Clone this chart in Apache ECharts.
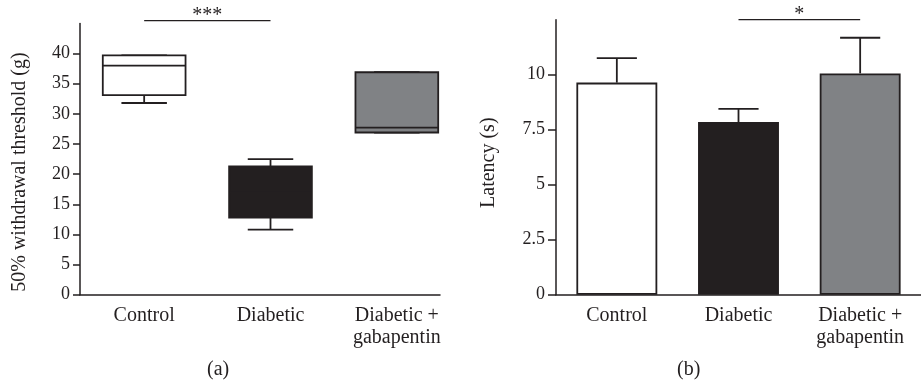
<!DOCTYPE html>
<html><head><meta charset="utf-8">
<script src="https://cdn.jsdelivr.net/npm/echarts@6/dist/echarts.min.js"></script>
<style>html,body{margin:0;padding:0;background:#fff}#c{width:921px;height:391px}</style>
</head><body><div id="c"></div>
<script>
// ---- data ----
const categories = ['Control', 'Diabetic', 'Diabetic +\ngabapentin'];
// Panel (a): 50% withdrawal threshold (g), box plot
const boxMin    = [31.8, 10.8, 26.9];
const boxQ1     = [33.1, 12.8, 26.9];
const boxMedian = [38.0, 17.0, 27.7];
const boxQ3     = [39.7, 21.3, 36.9];
const boxMax    = [39.7, 22.5, 36.9];
const thresholdTicks = [0, 5, 10, 15, 20, 25, 30, 35, 40];
const sigA = ['Control', 'Diabetic', '***', 45.45];
// Panel (b): latency (s), mean + SEM
const latencyMean = [9.64, 7.85, 10.06];
const latencyErr  = [1.11, 0.60, 1.62];
const latencyTicks = [0, 2.5, 5, 7.5, 10];
const sigB = ['Diabetic', 'Diabetic +\ngabapentin', '*', 12.5];
const captions = ['(a)', '(b)'];

// ---- styles ----
const FONT = "'Liberation Serif','DejaVu Serif',serif";
const INK = '#231f20';
const fills = ['#ffffff', '#231f20', '#808285'];
const LW = 1.8;

const chart = echarts.init(document.getElementById('c'), null, {renderer: 'canvas'});

function sigRender(params, api) {
  const p1 = api.coord([api.value(0), api.value(2)]);
  const p2 = api.coord([api.value(1), api.value(2)]);
  return {type: 'group', children: [
    {type: 'line', shape: {x1: p1[0], y1: p1[1], x2: p2[0], y2: p2[1]}, style: {stroke: INK, lineWidth: 1.3}},
    {type: 'text', x: (p1[0] + p2[0]) / 2, y: p1[1] + 5,
     style: {text: '*'.repeat(api.value(3)), font: '20px ' + FONT, fill: INK, align: 'center', verticalAlign: 'bottom'}}
  ]};
}

const axisLine = {show: true, lineStyle: {color: INK, width: 1.5}};
const labelStyle = {fontFamily: FONT, fontSize: 18, color: INK};

chart.setOption({
  animation: false,
  backgroundColor: '#fff',
  grid: [
    {left: 80, top: 23.4, width: 360, height: 271.3},
    {left: 81, top: 23.4, width: 379, height: 271.3},
    {left: 556, top: 19.7, width: 374, height: 275}
  ],
  xAxis: [
    {gridIndex: 0, type: 'category', data: categories, axisLine: axisLine, axisTick: {show: false}, axisLabel: {show: false}},
    {gridIndex: 1, type: 'category', data: categories, axisLine: {show: false}, axisTick: {show: false},
     axisLabel: {fontFamily: FONT, fontSize: 20, color: INK, margin: 10, lineHeight: 22, interval: 0}},
    {gridIndex: 2, type: 'category', data: categories, axisLine: axisLine, axisTick: {show: false},
     axisLabel: {fontFamily: FONT, fontSize: 20, color: INK, margin: 10, lineHeight: 22, interval: 0}}
  ],
  yAxis: [
    {gridIndex: 0, type: 'value', min: 0, max: 45, interval: 5, axisLine: axisLine,
     axisTick: {show: true, length: 7, customValues: thresholdTicks, lineStyle: {color: INK, width: 1.5}},
     axisLabel: Object.assign({customValues: thresholdTicks, margin: 10}, labelStyle),
     splitLine: {show: false},
     name: '50% withdrawal threshold (g)', nameLocation: 'middle', nameGap: 50, nameRotate: 90,
     nameTextStyle: {fontFamily: FONT, fontSize: 20, color: INK, padding: [0, 26, 0, 0]}},
    {gridIndex: 1, type: 'value', min: 0, max: 45, interval: 5, show: false},
    {gridIndex: 2, type: 'value', min: 0, max: 12.5, interval: 2.5, axisLine: axisLine,
     axisTick: {show: true, length: 8, customValues: latencyTicks, lineStyle: {color: INK, width: 1.5}},
     axisLabel: Object.assign({customValues: latencyTicks, margin: 11}, labelStyle),
     splitLine: {show: false},
     name: 'Latency (s)', nameLocation: 'middle', nameGap: 57, nameRotate: 90,
     nameTextStyle: {fontFamily: FONT, fontSize: 20, color: INK, padding: [0, 11, 0, 0]}}
  ],
  graphic: [
    {type: 'text', left: 222 - 15, top: 360, style: {text: captions[0], font: '20px ' + FONT, fill: INK}},
    {type: 'text', left: 692 - 15, top: 360, style: {text: captions[1], font: '20px ' + FONT, fill: INK}}
  ],
  series: [
    {
      type: 'custom', xAxisIndex: 1, yAxisIndex: 1,
      data: categories.map((c, i) => [i, boxMin[i], boxQ1[i], boxMedian[i], boxQ3[i], boxMax[i]]),
      encode: {x: 0, y: [1, 2, 3, 4, 5]},
      renderItem: function (params, api) {
        const i = api.value(0);
        const x = api.coord([i, 0])[0];
        const band = api.size([1, 0])[0];
        const w = band * 0.655, cw = band * 0.36;
        const yMin = api.coord([i, api.value(1)])[1];
        const yQ1 = api.coord([i, api.value(2)])[1];
        const yMed = api.coord([i, api.value(3)])[1];
        const yQ3 = api.coord([i, api.value(4)])[1];
        const yMax = api.coord([i, api.value(5)])[1];
        const st = {stroke: INK, lineWidth: LW};
        return {type: 'group', children: [
          {type: 'line', shape: {x1: x, y1: yMin, x2: x, y2: yQ1}, style: st},
          {type: 'line', shape: {x1: x - cw / 2, y1: yMin, x2: x + cw / 2, y2: yMin}, style: st},
          {type: 'line', shape: {x1: x, y1: yMax, x2: x, y2: yQ3}, style: st},
          {type: 'line', shape: {x1: x - cw / 2, y1: yMax, x2: x + cw / 2, y2: yMax}, style: st},
          {type: 'rect', shape: {x: x - w / 2, y: yQ3, width: w, height: yQ1 - yQ3}, style: {fill: fills[i], stroke: INK, lineWidth: LW}},
          {type: 'line', shape: {x1: x - w / 2, y1: yMed, x2: x + w / 2, y2: yMed}, style: st}
        ]};
      }
    },
    {
      type: 'custom', xAxisIndex: 1, yAxisIndex: 1,
      data: [[categories.indexOf(sigA[0]), categories.indexOf(sigA[1]), sigA[3], sigA[2].length]],
      renderItem: sigRender
    },
    {
      type: 'bar', xAxisIndex: 2, yAxisIndex: 2, barWidth: '66.5%',
      data: latencyMean.map((v, i) => ({value: v, itemStyle: {color: fills[i], borderColor: INK, borderWidth: LW}}))
    },
    {
      type: 'custom', xAxisIndex: 2, yAxisIndex: 2,
      data: latencyMean.map((v, i) => [i, v, v + latencyErr[i]]),
      encode: {x: 0, y: [1, 2]},
      renderItem: function (params, api) {
        const i = api.value(0);
        const p1 = api.coord([i, api.value(1)]);
        const p2 = api.coord([i, api.value(2)]);
        const cw = api.size([1, 0])[0] * 0.33;
        const st = {stroke: INK, lineWidth: LW};
        return {type: 'group', children: [
          {type: 'line', shape: {x1: p1[0], y1: p1[1], x2: p2[0], y2: p2[1]}, style: st},
          {type: 'line', shape: {x1: p2[0] - cw / 2, y1: p2[1], x2: p2[0] + cw / 2, y2: p2[1]}, style: st}
        ]};
      }
    },
    {
      type: 'custom', xAxisIndex: 2, yAxisIndex: 2,
      data: [[categories.indexOf(sigB[0]), categories.indexOf(sigB[1]), sigB[3], sigB[2].length]],
      renderItem: sigRender
    }
  ]
});
</script></body></html>
